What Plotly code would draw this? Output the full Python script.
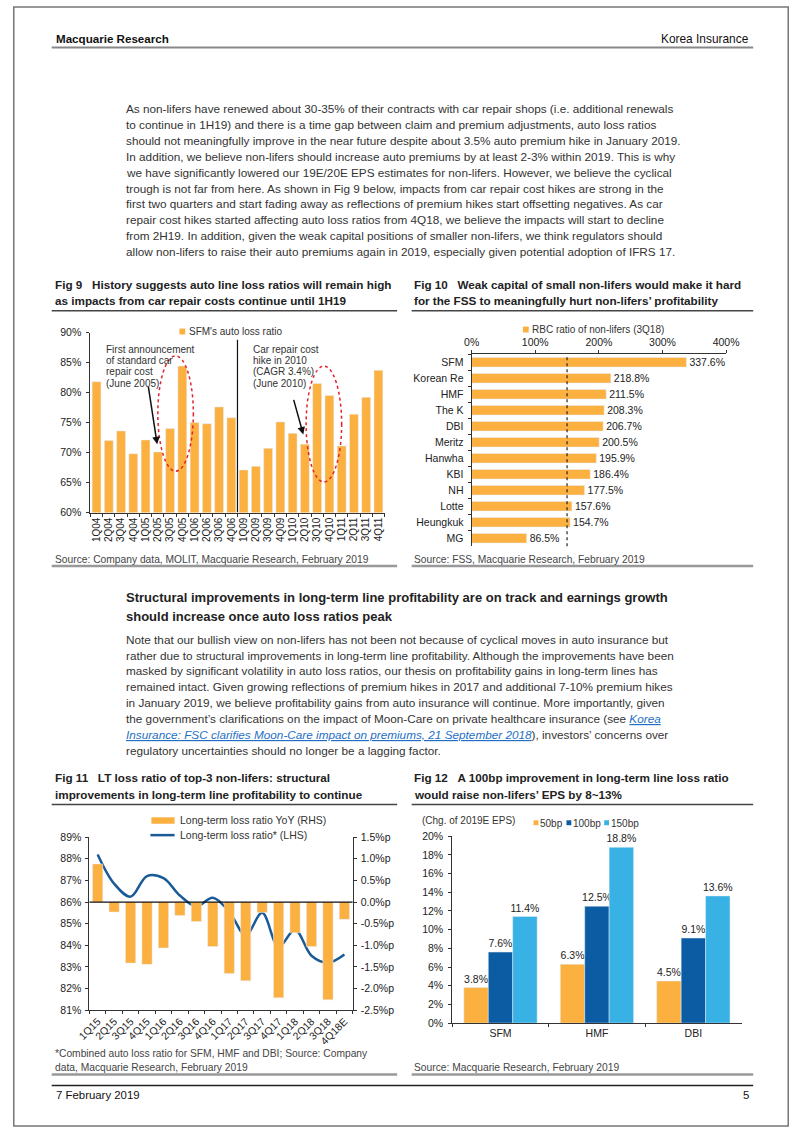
import plotly.graph_objects as go

W, H = 802, 1133
def px(x): return x / W
def py(y): return 1 - y / H

BODY = "Liberation Sans, Arial, sans-serif"
NARROW = "Liberation Sans Narrow, Arial Narrow, Liberation Sans, Arial, sans-serif"
ORANGE = "#FBB040"
DBLUE = "#0B5CA3"
LBLUE = "#38B1E4"
TXT = "#222222"

# ---------------- data ----------------
# Fig 9
q9 = ["1Q04", "2Q04", "3Q04", "4Q04", "1Q05", "2Q05", "3Q05", "4Q05", "1Q06", "2Q06", "3Q06", "4Q06",
      "1Q09", "2Q09", "3Q09", "4Q09", "1Q10", "2Q10", "3Q10", "4Q10", "1Q11", "2Q11", "3Q11", "4Q11"]
auto_lr = [81.8, 72.0, 73.6, 69.8, 72.1, 70.1, 74.0, 84.4, 75.0, 74.8, 77.6, 75.8,
           67.1, 67.7, 70.7, 75.1, 73.2, 71.4, 81.5, 79.5, 71.1, 76.4, 79.2, 83.7]
y9_ticks = [60, 65, 70, 75, 80, 85, 90]
y9_labels = ["60%", "65%", "70%", "75%", "80%", "85%", "90%"]

# Fig 10
insurers = ["SFM", "Korean Re", "HMF", "The K", "DBI", "Meritz", "Hanwha", "KBI", "NH", "Lotte", "Heungkuk", "MG"]
rbc = [337.6, 218.8, 211.5, 208.3, 206.7, 200.5, 195.9, 186.4, 177.5, 157.6, 154.7, 86.5]
rbc_guide = 150
x10_ticks = [0, 100, 200, 300, 400]
x10_labels = ["0%", "100%", "200%", "300%", "400%"]

# Fig 11
q11 = ["1Q15", "2Q15", "3Q15", "4Q15", "1Q16", "2Q16", "3Q16", "4Q16",
       "1Q17", "2Q17", "3Q17", "4Q17", "1Q18", "2Q18", "3Q18", "4Q18E"]
lt_yoy = [0.88, -0.23, -1.41, -1.44, -1.06, -0.31, -0.45, -1.03,
          -1.65, -1.82, -0.24, -2.21, -0.71, -1.03, -2.26, -0.40]
lt_lr = [88.2, 86.85, 86.25, 87.2, 87.1, 86.3, 85.8, 86.2,
         85.55, 84.47, 85.5, 83.93, 84.72, 83.52, 83.2, 83.58]
y11l_ticks = [81, 82, 83, 84, 85, 86, 87, 88, 89]
y11l_labels = ["81%", "82%", "83%", "84%", "85%", "86%", "87%", "88%", "89%"]
y11r_ticks = [-2.5, -2.0, -1.5, -1.0, -0.5, 0.0, 0.5, 1.0, 1.5]
y11r_labels = ["-2.5%p", "-2.0%p", "-1.5%p", "-1.0%p", "-0.5%p", "0.0%p", "0.5%p", "1.0%p", "1.5%p"]

# Fig 12
companies = ["SFM", "HMF", "DBI"]
eps_50bp = [3.8, 6.3, 4.5]
eps_100bp = [7.6, 12.5, 9.1]
eps_150bp = [11.4, 18.8, 13.6]
y12_ticks = [0, 2, 4, 6, 8, 10, 12, 14, 16, 18, 20]
y12_labels = ["0%", "2%", "4%", "6%", "8%", "10%", "12%", "14%", "16%", "18%", "20%"]

# ---------------- text ----------------
para1 = [
    "As non-lifers have renewed about 30-35% of their contracts with car repair shops (i.e. additional renewals",
    "to continue in 1H19) and there is a time gap between claim and premium adjustments, auto loss ratios",
    "should not meaningfully improve in the near future despite about 3.5% auto premium hike in January 2019.",
    "In addition, we believe non-lifers should increase auto premiums by at least 2-3% within 2019. This is why",
    "we have significantly lowered our 19E/20E EPS estimates for non-lifers. However, we believe the cyclical",
    "trough is not far from here. As shown in Fig 9 below, impacts from car repair cost hikes are strong in the",
    "first two quarters and start fading away as reflections of premium hikes start offsetting negatives. As car",
    "repair cost hikes started affecting auto loss ratios from 4Q18, we believe the impacts will start to decline",
    "from 2H19. In addition, given the weak capital positions of smaller non-lifers, we think regulators should",
    "allow non-lifers to raise their auto premiums again in 2019, especially given potential adoption of IFRS 17.",
]
LINK = "color:#1F6FC5"
heading2 = [
    "Structural improvements in long-term line profitability are on track and earnings growth",
    "should increase once auto loss ratios peak",
]
para2 = [
    "Note that our bullish view on non-lifers has not been not because of cyclical moves in auto insurance but",
    "rather due to structural improvements in long-term line profitability. Although the improvements have been",
    "masked by significant volatility in auto loss ratios, our thesis on profitability gains in long-term lines has",
    "remained intact. Given growing reflections of premium hikes in 2017 and additional 7-10% premium hikes",
    "in January 2019, we believe profitability gains from auto insurance will continue. More importantly, given",
    "the government\u2019s clarifications on the impact of Moon-Care on private healthcare insurance (see "
    "<span style='" + LINK + "'><i><u>Korea</u></i></span>",
    "<span style='" + LINK + "'><i><u>Insurance: FSC clarifies Moon-Care impact on premiums, 21 September 2018</u></i></span>"
    "), investors\u2019 concerns over",
    "regulatory uncertainties should no longer be a lagging factor.",
]

annotations = []
shapes = []

def txt(x, y, s, size=12, color=TXT, family=BODY, anchor="left", bold=False):
    if bold:
        s = "<b>" + s + "</b>"
    annotations.append(dict(x=px(x), y=py(y), xref="paper", yref="paper", text=s, showarrow=False,
                            xanchor=anchor, yanchor="middle", align=anchor, borderpad=0,
                            font=dict(size=size, color=color, family=family)))

def hline(x0, x1, y, color, width):
    shapes.append(dict(type="line", xref="paper", yref="paper", x0=px(x0), x1=px(x1), y0=py(y), y1=py(y),
                       line=dict(color=color, width=width)))

def rect(x0, y0, x1, y1, color):
    shapes.append(dict(type="rect", xref="paper", yref="paper", x0=px(x0), x1=px(x1), y0=py(y0), y1=py(y1),
                       fillcolor=color, line=dict(width=0)))

# page frame
shapes.append(dict(type="rect", xref="paper", yref="paper", x0=0.001, x1=0.999, y0=0.001, y1=0.999,
                   line=dict(color="#777777", width=1.5)))

# header / footer
txt(43, 33, "Macquarie Research", size=11.6, family=NARROW, bold=True, color="#111")
txt(762, 33, "Korea Insurance", size=11.9, family=NARROW, anchor="right", color="#111")
hline(40, 765, 42, "#888888", 2)
hline(40, 765, 1091, "#222222", 1.5)
txt(43, 1101, "7 February 2019", size=11.4, family=NARROW, color="#111")
txt(762, 1101, "5", size=11.4, family=NARROW, anchor="right", color="#111")

# paragraph 1
for i, line in enumerate(para1):
    txt(116, 104 + 16 * i, line, size=11.75, color="#333333")

# heading 2 and paragraph 2
for i, line in enumerate(heading2):
    txt(116, 598 + 19 * i, line, size=13, bold=True, color="#222")
for i, line in enumerate(para2):
    txt(116, 640 + 16 * i, line, size=11.75, color="#333333")

# figure titles
NB = "\u00a0\u00a0\u00a0"
TS = 11.7
txt(42, 281, "Fig 9" + NB + "History suggests auto line loss ratios will remain high", size=TS, family=NARROW, bold=True)
txt(42, 298, "as impacts from car repair costs continue until 1H19", size=TS, family=NARROW, bold=True)
txt(413, 281, "Fig 10" + NB + "Weak capital of small non-lifers would make it hard", size=TS, family=NARROW, bold=True)
txt(413, 298, "for the FSS to meaningfully hurt non-lifers\u2019 profitability", size=TS, family=NARROW, bold=True)
hline(40, 397, 308, "#444444", 1.5)
hline(412, 765, 308, "#444444", 1.5)

txt(42, 780, "Fig 11" + NB + "LT loss ratio of top-3 non-lifers: structural", size=TS, family=NARROW, bold=True)
txt(42, 797, "improvements in long-term line profitability to continue", size=TS, family=NARROW, bold=True)
txt(413, 780, "Fig 12" + NB + "A 100bp improvement in long-term line loss ratio", size=TS, family=NARROW, bold=True)
txt(413, 797, "would raise non-lifers\u2019 EPS by 8~13%", size=TS, family=NARROW, bold=True)
hline(40, 397, 807, "#444444", 1.5)
hline(412, 765, 807, "#444444", 1.5)

# sources
SRC = "#444444"
SS = 10.25
txt(42, 559, "Source: Company data, MOLIT, Macquarie Research, February 2019", size=SS, family=NARROW, color=SRC)
txt(413, 559, "Source: FSS, Macquarie Research, February 2019", size=SS, family=NARROW, color=SRC)
hline(40, 397, 566, "#999999", 2.5)
hline(412, 765, 566, "#999999", 2.5)
txt(42, 1059, "*Combined auto loss ratio for SFM, HMF and DBI; Source: Company", size=SS, family=NARROW, color=SRC)
txt(42, 1073, "data, Macquarie Research, February 2019", size=SS, family=NARROW, color=SRC)
txt(413, 1073, "Source: Macquarie Research, February 2019", size=SS, family=NARROW, color=SRC)
hline(40, 397, 1080, "#999999", 2.5)
hline(412, 765, 1080, "#999999", 2.5)

# ---------------- traces ----------------
fig = go.Figure()

fig.add_trace(go.Bar(x=q9, y=auto_lr, marker_color=ORANGE, width=0.72, xaxis="x", yaxis="y",
                     name="SFM's auto loss ratio"))

fig.add_trace(go.Bar(y=insurers, x=rbc, orientation="h", marker_color=ORANGE, width=0.6,
                     xaxis="x2", yaxis="y2", name="RBC ratio of non-lifers (3Q18)",
                     text=[f"{v:.1f}%" for v in rbc], textposition="outside", cliponaxis=False,
                     constraintext="none", textfont=dict(size=10.5, color=TXT, family=BODY)))

fig.add_trace(go.Bar(x=q11, y=lt_yoy, marker_color=ORANGE, width=0.62, xaxis="x3", yaxis="y4",
                     name="Long-term loss ratio YoY (RHS)"))
fig.add_trace(go.Scatter(x=q11, y=lt_lr, mode="lines", line=dict(color="#1A5A96", width=2.5, shape="spline"),
                         xaxis="x3", yaxis="y3", name="Long-term loss ratio* (LHS)"))

for vals, col, nm in [(eps_50bp, ORANGE, "50bp"), (eps_100bp, DBLUE, "100bp"), (eps_150bp, LBLUE, "150bp")]:
    fig.add_trace(go.Bar(x=companies, y=vals, marker_color=col, name=nm, xaxis="x4", yaxis="y5",
                         text=[f"{v:.1f}%" for v in vals], textposition="outside", cliponaxis=False,
                         constraintext="none", textfont=dict(size=10.5, color=TXT, family=BODY)))

# ---------------- axes ----------------
def ax(**kw):
    base = dict(showgrid=False, zeroline=False, showline=True, linecolor="#333", linewidth=1,
                ticks="outside", tickcolor="#333", ticklen=3, fixedrange=True,
                tickfont=dict(family=BODY, size=10.5, color=TXT))
    base.update(kw)
    return base

layout_axes = dict(
    xaxis=ax(domain=[px(80), px(384)], anchor="y", type="category", tickangle=-90, tickson="boundaries",
             tickfont=dict(family=BODY, size=10, color=TXT)),
    yaxis=ax(domain=[py(512), py(330)], anchor="x", range=[60, 90], tickvals=y9_ticks, ticktext=y9_labels,
             ticklabelstandoff=3),
    xaxis2=ax(domain=[px(474), px(737)], anchor="y2", side="top", range=[0, 400],
              tickvals=x10_ticks, ticktext=x10_labels),
    yaxis2=ax(domain=[py(546), py(352)], anchor="x2", type="category", autorange="reversed",
              tickson="boundaries", ticklabelstandoff=5),
    xaxis3=ax(domain=[px(79), px(351)], anchor="y3", type="category", tickangle=-45, tickson="boundaries"),
    yaxis3=ax(domain=[py(1015), py(840)], anchor="x3", range=[81, 89], tickvals=y11l_ticks,
              ticktext=y11l_labels, ticklabelstandoff=2),
    yaxis4=ax(overlaying="y3", anchor="x3", side="right", range=[-2.5, 1.5], tickvals=y11r_ticks,
              ticktext=y11r_labels, ticklabelstandoff=2),
    xaxis4=ax(domain=[px(454), px(753)], anchor="y5", type="category", tickson="boundaries"),
    yaxis5=ax(domain=[py(1028), py(839)], anchor="x4", range=[0, 20], tickvals=y12_ticks, ticktext=y12_labels,
              ticklabelstandoff=3),
)

# ---------------- chart decorations ----------------
# Fig 9 separator, ellipses, arrows, notes, legend
shapes.append(dict(type="line", xref="x", yref="y", x0=11.5, x1=11.5, y0=60, y1=88.8,
                   line=dict(color="#111", width=1.2)))
shapes.append(dict(type="circle", xref="x", yref="y", x0=5.0, x1=7.9, y0=66.9, y1=86.1,
                   line=dict(color="#E3232C", width=1.5, dash="dot")))
shapes.append(dict(type="circle", xref="x", yref="y", x0=17.1, x1=20.0, y0=65.1, y1=84.4,
                   line=dict(color="#E3232C", width=1.5, dash="dot")))
for hx, hy, tx, ty in [(149, 443, 140, 384), (300, 433, 290, 397)]:
    annotations.append(dict(x=px(hx), y=py(hy), xref="paper", yref="paper", ax=tx - hx, ay=ty - hy,
                            axref="pixel", ayref="pixel", text="", showarrow=True, arrowhead=2,
                            arrowsize=1, arrowwidth=1.5, arrowcolor="#111"))
note1 = ["First announcement", "of standard car", "repair cost", "(June 2005)"]
note2 = ["Car repair cost", "hike in 2010", "(CAGR 3.4%)", "(June 2010)"]
for i, (a, b) in enumerate(zip(note1, note2)):
    txt(95, 347 + 11.4 * i, a, size=10, color="#333")
    txt(247, 347 + 11.4 * i, b, size=10, color="#333")
rect(172, 326, 178, 332, ORANGE)
txt(181, 329, "SFM's auto loss ratio", size=10, color="#333")

# Fig 10 guide line & legend
shapes.append(dict(type="line", xref="x2", yref="y2 domain", x0=rbc_guide, x1=rbc_guide, y0=0, y1=1,
                   line=dict(color="#222", width=1.2, dash="dot")))
rect(527, 324, 533, 330, ORANGE)
txt(535, 327, "RBC ratio of non-lifers (3Q18)", size=10, color="#333")

# Fig 11 zero line & legend
shapes.append(dict(type="line", xref="x3 domain", yref="y4", x0=0, x1=1, y0=0, y1=0,
                   line=dict(color="#111", width=1.2)))
rect(143, 820, 167, 826.5, ORANGE)
txt(172, 823, "Long-term loss ratio YoY (RHS)", size=10.5, color="#333")
hline(142, 167, 838, "#1A5A96", 2.5)
txt(172, 838, "Long-term loss ratio* (LHS)", size=10.5, color="#333")

# Fig 12 legend
txt(422, 823, "(Chg. of 2019E EPS)", size=10, color="#333")
for mx, col, lab in [(538, ORANGE, "50bp"), (572, DBLUE, "100bp"), (611, LBLUE, "150bp")]:
    rect(mx, 823, mx + 5, 828, col)
    txt(mx + 6, 826, lab, size=10, color="#333")

fig.update_layout(
    width=W, height=H, autosize=False,
    margin=dict(l=0, r=0, t=0, b=0),
    paper_bgcolor="white", plot_bgcolor="white",
    showlegend=False, barmode="group", bargap=0.24, bargroupgap=0,
    font=dict(family=BODY, color=TXT),
    annotations=annotations, shapes=shapes,
    **layout_axes,
)

fig.write_html("out.html", config={"displayModeBar": False},
               post_script="document.body.style.margin='0';document.body.style.overflow='hidden';")
